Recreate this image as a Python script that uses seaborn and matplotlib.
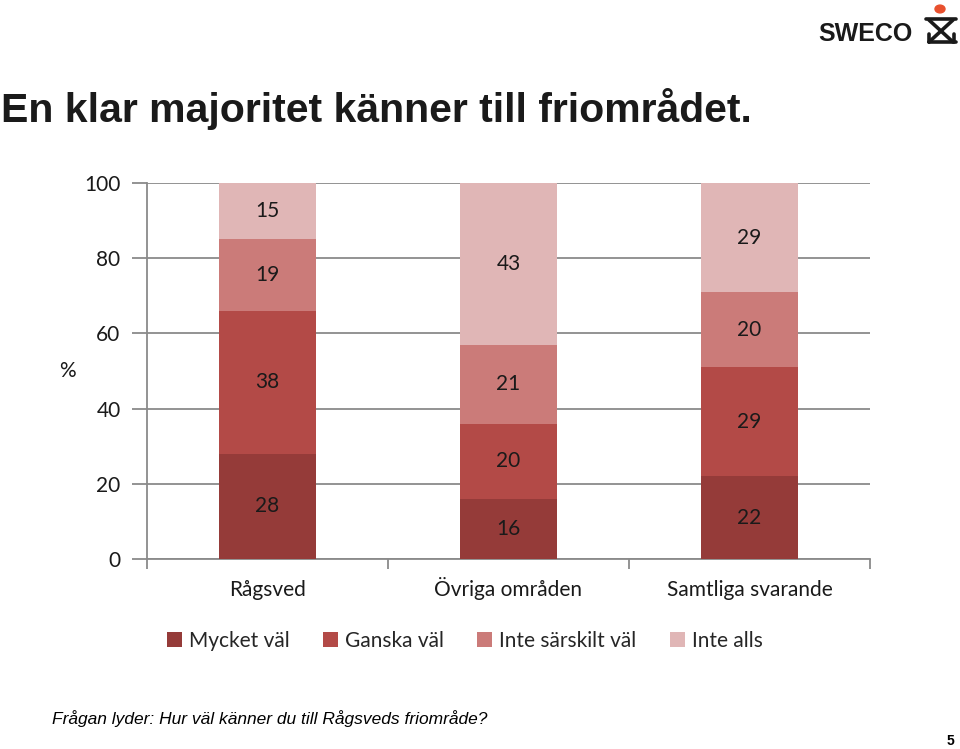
import numpy as np
import pandas as pd
import matplotlib
matplotlib.use("Agg")
import matplotlib.pyplot as plt
from matplotlib.patches import Rectangle, Circle
from matplotlib.lines import Line2D
import seaborn as sns

# ---- data ----
categories = ["Rågsved", "Övriga områden", "Samtliga svarande"]
series_names = ["Mycket väl", "Ganska väl", "Inte särskilt väl", "Inte alls"]
mycket_val = [28, 16, 22]
ganska_val = [38, 20, 29]
inte_sarskilt_val = [19, 21, 20]
inte_alls = [15, 43, 29]
y_ticks = [0, 20, 40, 60, 80, 100]

colors = ["#953B39", "#B34A47", "#CB7B79", "#E0B6B6"]

sns.set_theme(style="white")
plt.rcParams["font.family"] = ["Lato", "DejaVu Sans"]

W, H = 960, 749
fig = plt.figure(figsize=(W / 100, H / 100), dpi=100)
ax = fig.add_axes([147 / W, 1 - 559 / H, (870 - 147) / W, (559 - 183) / H])

series = [mycket_val, ganska_val, inte_sarskilt_val, inte_alls]
cum = np.cumsum(np.array(series), axis=0)

# draw cumulative totals from top to bottom so lower segments overlay
for i in range(len(series) - 1, -1, -1):
    df = pd.DataFrame({"cat": categories, "val": cum[i]})
    sns.barplot(data=df, x="cat", y="val", color=colors[i], width=0.4,
                saturation=1, ax=ax, linewidth=0, zorder=3)

# data labels
for i, s in enumerate(series):
    for j, v in enumerate(s):
        ax.text(j, cum[i][j] - v / 2, f"{v}", ha="center", va="center",
                fontsize=15, color="#1a1a1a", zorder=5)

ax.set_xlim(-0.5, 2.5)
ax.set_ylim(0, 100)
ax.set_yticks(y_ticks)
ax.set_yticklabels([str(t) for t in y_ticks], fontsize=15, color="#1a1a1a")
ax.yaxis.grid(True, color="#8a8a8a", linewidth=1.3, zorder=0)
ax.set_axisbelow(True)
ax.tick_params(axis="y", length=11, width=1.3, color="#8a8a8a", pad=8, left=True)

ax.set_xticks([0, 1, 2])
ax.set_xticklabels(categories, fontsize=15, color="#1a1a1a")
for t in ax.get_xticklabels():
    t.set_verticalalignment("baseline")
ax.tick_params(axis="x", which="major", length=0, pad=27)
ax.set_xticks([-0.5, 0.5, 1.5, 2.5], minor=True)
ax.tick_params(axis="x", which="minor", length=7, width=1.3, color="#8a8a8a", bottom=True)
ax.set_xlabel("")
ax.set_ylabel("")

for side in ["top", "right"]:
    ax.spines[side].set_visible(False)
for side in ["left", "bottom"]:
    ax.spines[side].set_color("#8a8a8a")
    ax.spines[side].set_linewidth(1.3)

fig.text(67 / W, 1 - 371 / H, "%", fontsize=15, ha="center", va="center", color="#1a1a1a")

# legend
handles = [Rectangle((0, 0), 1, 1, facecolor=c, edgecolor="none") for c in colors]
fig.legend(handles, series_names, loc="center", bbox_to_anchor=(465 / W, 1 - 641 / H),
           ncol=4, frameon=False, fontsize=15, handlelength=0.7, handleheight=0.7,
           handletextpad=0.35, columnspacing=1.6, borderaxespad=0)

# title
fig.text(1 / W, 1 - 122 / H, "En klar majoritet känner till friområdet.",
         family=["Liberation Sans", "DejaVu Sans"],
         fontweight="bold", fontsize=29.5, ha="left", va="baseline", color="#1a1a1a")

# footer
fig.text(52 / W, 1 - 719 / H, "Frågan lyder: Hur väl känner du till Rågsveds friområde?",
         family=["Liberation Sans", "DejaVu Sans"], style="italic", fontsize=12.5,
         ha="left", va="center", color="black")
fig.text(950 / W, 1 - 741 / H, "5", family=["Liberation Sans"],
         fontweight="bold", fontsize=10, ha="center", va="center", color="black")

# logo
fig.text(865 / W, 1 - 34 / H, "SWECO", family=["Liberation Sans", "DejaVu Sans"],
         fontweight="bold", fontsize=18, ha="center", va="center", color="#1a1a1a")
def P(x, y):
    return (x / W, 1 - y / H)
lw = 2.6
for (x0, y0, x1, y1) in [(926, 19, 956, 19), (929, 20, 953, 42), (953, 20, 929, 42),
                          (929, 42, 956, 42), (929, 34, 929, 42), (954, 34, 954, 42)]:
    a, b = P(x0, y0), P(x1, y1)
    fig.add_artist(Line2D([a[0], b[0]], [a[1], b[1]], color="#1a1a1a", lw=lw,
                          transform=fig.transFigure))
fig.add_artist(Circle(P(940, 9), 5 / W, transform=fig.transFigure, color="#E8502E"))

fig.savefig("out.png", dpi=100, facecolor="white")
